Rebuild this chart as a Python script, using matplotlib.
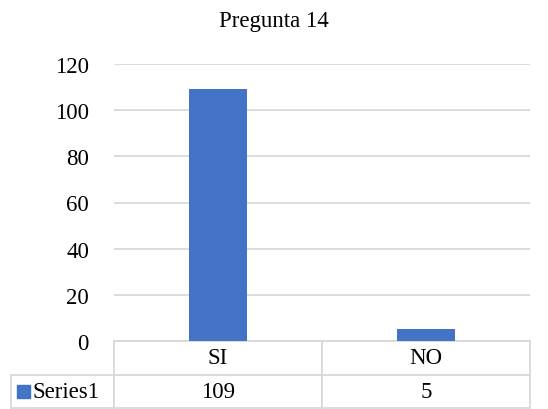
import matplotlib
matplotlib.use("Agg")
import matplotlib.pyplot as plt
from matplotlib.patches import Rectangle

# data
categories = ["SI", "NO"]
values = [109, 5]
series_name = "Series1"
title = "Pregunta 14"
yticks = [0, 20, 40, 60, 80, 100, 120]

bar_color = "#4472c4"
grid_color = "#d9d9d9"
fs = 16.5

plt.rcParams["font.family"] = ["Liberation Serif", "DejaVu Serif"]

fig = plt.figure(figsize=(5.48, 4.10), dpi=100)
ax = fig.add_axes([114 / 548, 1 - 342 / 410, 416 / 548, 277 / 410])

x = list(range(len(categories)))
ax.bar(x, values, width=0.28, color=bar_color, zorder=3)
ax.set_xlim(-0.5, len(categories) - 0.5)
ax.set_ylim(0, 120)
ax.set_yticks(yticks)
ax.set_yticklabels([str(t) for t in yticks], fontsize=fs)
ax.yaxis.grid(True, color=grid_color, linewidth=1.3, zorder=0)
ax.set_xticks([])
ax.tick_params(axis="y", length=0, pad=18)
for s in ax.spines.values():
    s.set_visible(False)

fig.text(0.5, 1 - 22 / 410, title, ha="center", va="center", fontsize=fs)

# data table under the plot
cell_text = [[""] + categories, [""] + [str(v) for v in values]]
label_w = 103 / 416
tbl = ax.table(cellText=cell_text, colWidths=[label_w, 0.5, 0.5],
               cellLoc="center", bbox=[-label_w, -67 / 277, 1 + label_w, 67 / 277])
tbl.auto_set_font_size(False)
tbl.set_fontsize(fs)
for (r, c), cell in tbl.get_celld().items():
    cell.set_edgecolor(grid_color)
    cell.set_linewidth(1.3)
tbl[0, 0].visible_edges = ""

# legend key in the table row label
row_mid = -51 / 277
key = Rectangle(((17 - 114) / 416, -57 / 277), 13 / 416, 13 / 277,
                transform=ax.transAxes, color=bar_color, clip_on=False)
ax.add_patch(key)
ax.text((33 - 114) / 416, row_mid, series_name, fontsize=fs,
        ha="left", va="center", transform=ax.transAxes)

fig.savefig("out.png", dpi=100)
